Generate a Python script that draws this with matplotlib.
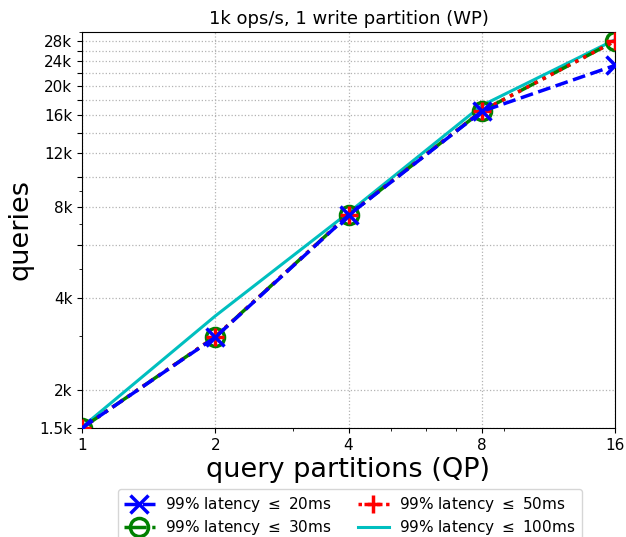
import numpy as np
import matplotlib as mpl
mpl.use('Agg')
import matplotlib.pyplot as plt
import matplotlib.ticker as mTicker

# query partitions (x) and achieved queries per latency bound (y)
queryPartitions = [1, 2, 4, 8, 16]
lat20 = [1500, 2980, 7500, 16450, 23300]
lat30 = [1500, 2990, 7520, 16500, 28000]
lat50 = [1500, 2990, 7520, 16500, 28000]
lat100 = [1510, 3500, 7650, 17200, 28300]

yTickVals = [1500, 2000, 4000, 6000, 8000, 10000, 12000, 14000, 16000,
             18000, 20000, 22000, 24000, 26000, 28000]
yTickLabels = ['1.5k', '2k', '4k', '', '8k', '', '12k', '', '16k',
               '', '20k', '', '24k', '', '28k']
xTickVals = [1, 2, 4, 8, 16]

fig = plt.figure(figsize=(6.26, 5.37), dpi=100)
ax = fig.add_axes([82 / 626, 1 - 428 / 537, (615 - 82) / 626, (428 - 32) / 537])

ax.plot(queryPartitions, lat100, '-', color='c', lw=2.2, zorder=2,
        label=r'99% latency $\leq$ 100ms')
ax.plot(queryPartitions, lat50, ':', color='r', lw=2.5, marker='+',
        ms=13, mew=2.5, zorder=3, label=r'99% latency $\leq$ 50ms')
ax.plot(queryPartitions, lat30, '-.', color='g', lw=2.5, marker='o',
        ms=13, mew=2.5, mfc='none', zorder=2.5,
        label=r'99% latency $\leq$ 30ms')
ax.plot(queryPartitions, lat20, '--', color='b', lw=2.5, marker='x',
        ms=13, mew=2.5, zorder=4, label=r'99% latency $\leq$ 20ms')

ax.set_xscale('log')
ax.set_yscale('log')
ax.set_xlim(1, 16)
ax.set_ylim(1500, 30000)
ax.set_xticks(xTickVals)
ax.set_xticklabels([str(v) for v in xTickVals])
ax.set_yticks(yTickVals)
ax.set_yticklabels(yTickLabels)
ax.xaxis.set_minor_formatter(mTicker.NullFormatter())
ax.yaxis.set_minor_formatter(mTicker.NullFormatter())
ax.tick_params(labelsize=11)
ax.grid(True, which='major', ls=':', color='0.7', lw=0.9)

ax.set_title('1k ops/s, 1 write partition (WP)', fontsize=13)
ax.set_xlabel('query partitions (QP)', fontsize=19.5, labelpad=3)
ax.set_ylabel('queries', fontsize=19.5)

h, l = ax.get_legend_handles_labels()
order = [3, 2, 1, 0]
fig.legend([h[i] for i in order], [l[i] for i in order], ncol=2,
           loc='upper center', bbox_to_anchor=(0.559, 0.089), fontsize=11,
           handlelength=2.0, columnspacing=1.7, labelspacing=0.25,
           handletextpad=0.7, borderaxespad=0.)

fig.savefig('out.png', dpi=100)
